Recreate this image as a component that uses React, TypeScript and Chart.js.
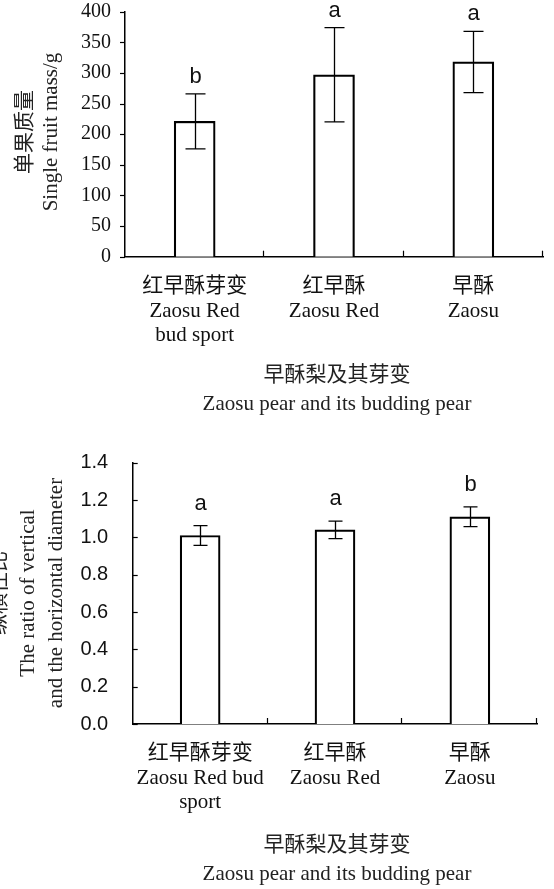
import React, { useEffect, useRef } from "react";
import { Chart, registerables } from "chart.js";

Chart.register(...registerables);

// ---------- data ----------
const labelsMass = [
  ["红早酥芽变", "Zaosu Red", "bud sport"],
  ["红早酥", "Zaosu Red"],
  ["早酥", "Zaosu"],
];
const labelsRatio = [
  ["红早酥芽变", "Zaosu Red bud", "sport"],
  ["红早酥", "Zaosu Red"],
  ["早酥", "Zaosu"],
];
const massMeans = [221, 297, 318];
const massErrors = [45, 77, 50];
const massLetters = ["b", "a", "a"];
const ratioMeans = [1.01, 1.04, 1.11];
const ratioErrors = [0.053, 0.047, 0.053];
const ratioLetters = ["a", "a", "b"];
const massAxis = { min: 0, max: 400, step: 50 };
const ratioAxis = { min: 0, max: 1.4, step: 0.2 };
const xTitleLines = ["早酥梨及其芽变", "Zaosu pear and its budding pear"];
const massYTitle = ["单果质量", "Single fruit mass/g"];
const ratioYTitle = ["纵横径比", "The ratio of vertical", "and the horizontal diameter"];

const SERIF = '"Liberation Serif", "Times New Roman", "Noto Sans CJK SC", serif';
const SANS = '"Liberation Sans", Arial, "Noto Sans CJK SC", sans-serif';
const TEXT = "#111";

type Spec = {
  labels: string[][];
  means: number[];
  errors: number[];
  letters: string[];
  axis: { min: number; max: number; step: number };
  yTitle: string[];
  yTitleX: number[];
  yTitleCY: number;
  xTitleY: number[];
  xTitleCX: number;
  width: number;
  height: number;
  padTop: number;
  padRight: number;
  yWidth: number;
  xHeight: number;
  yTickFont: any;
  yTickPad: number;
  yTickDir: number; // -1 outward, +1 inward
  capW: number;
  letterGap: number;
  barThickness: number;
  fmt: (v: number) => string;
};

function overlayPlugin(s: Spec) {
  return {
    id: "overlay",
    afterDatasetsDraw(chart: any) {
      const ctx = chart.ctx as CanvasRenderingContext2D;
      const xs = chart.scales.x;
      const ys = chart.scales.y;
      const ca = chart.chartArea;
      ctx.save();
      ctx.strokeStyle = "#000";
      ctx.lineWidth = 1.2;
      // y tick marks
      ys.ticks.forEach((_t: any, i: number) => {
        const py = Math.round(ys.getPixelForTick(i)) + 0.5;
        ctx.beginPath();
        ctx.moveTo(ca.left, py);
        ctx.lineTo(ca.left + s.yTickDir * 5, py);
        ctx.stroke();
      });
      // x tick marks at category boundaries
      const n = s.labels.length;
      const cw = (ca.right - ca.left) / n;
      for (let i = 1; i <= n; i++) {
        const px = Math.round(ca.left + i * cw) - 0.5;
        ctx.beginPath();
        ctx.moveTo(px, ca.bottom);
        ctx.lineTo(px, ca.bottom - 6);
        ctx.stroke();
      }
      // error bars + letters
      ctx.lineWidth = 1.3;
      s.means.forEach((m, i) => {
        const cx = Math.round(xs.getPixelForValue(i)) + 0.5;
        const yt = ys.getPixelForValue(m + s.errors[i]);
        const yb = ys.getPixelForValue(m - s.errors[i]);
        ctx.beginPath();
        ctx.moveTo(cx, yt);
        ctx.lineTo(cx, yb);
        ctx.moveTo(cx - s.capW / 2, yt);
        ctx.lineTo(cx + s.capW / 2, yt);
        ctx.moveTo(cx - s.capW / 2, yb);
        ctx.lineTo(cx + s.capW / 2, yb);
        ctx.stroke();
        ctx.fillStyle = TEXT;
        ctx.font = `22px ${SANS}`;
        ctx.textAlign = "center";
        ctx.textBaseline = "alphabetic";
        ctx.fillText(s.letters[i], cx, yt - s.letterGap);
      });
      // y title
      ctx.fillStyle = "#222";
      ctx.font = `21px ${SERIF}`;
      ctx.textAlign = "center";
      ctx.textBaseline = "middle";
      s.yTitle.forEach((line, i) => {
        ctx.save();
        ctx.translate(s.yTitleX[i], s.yTitleCY);
        ctx.rotate(-Math.PI / 2);
        ctx.fillText(line, 0, 0);
        ctx.restore();
      });
      // x title
      xTitleLines.forEach((line, i) => {
        ctx.fillText(line, s.xTitleCX, s.xTitleY[i]);
      });
      ctx.restore();
    },
  };
}

function BarChart({ s, top }: { s: Spec; top: number }) {
  const ref = useRef<HTMLCanvasElement | null>(null);
  useEffect(() => {
    if (!ref.current) return;
    const chart = new Chart(ref.current, {
      type: "bar",
      data: {
        labels: s.labels as any,
        datasets: [
          {
            data: s.means,
            backgroundColor: "#fff",
            borderColor: "#000",
            borderWidth: 2.2,
            barThickness: s.barThickness,
          },
        ],
      },
      options: {
        responsive: false,
        animation: false,
        devicePixelRatio: 1,
        layout: { padding: { left: 0, top: s.padTop, right: s.padRight, bottom: 0 } },
        plugins: { legend: { display: false }, tooltip: { enabled: false }, title: { display: false } },
        scales: {
          x: {
            offset: true,
            grid: { display: false, drawTicks: false },
            border: { display: true, color: "#000", width: 1.5 },
            ticks: {
              color: TEXT,
              font: { family: SERIF, size: 21, lineHeight: 1.17 },
              padding: 17.5,
              maxRotation: 0,
              minRotation: 0,
              autoSkip: false,
            },
            afterFit: (sc: any) => {
              sc.height = s.xHeight;
              sc.paddingLeft = 0;
              sc.paddingRight = 0;
            },
          },
          y: {
            min: s.axis.min,
            max: s.axis.max,
            grid: { display: false, drawTicks: false },
            border: { display: true, color: "#000", width: 1.5 },
            ticks: {
              stepSize: s.axis.step,
              color: TEXT,
              font: s.yTickFont,
              padding: s.yTickPad,
              callback: (v: any) => s.fmt(Number(v)),
            },
            afterFit: (sc: any) => {
              sc.width = s.yWidth;
              sc.paddingTop = 0;
              sc.paddingBottom = 0;
            },
          },
        },
      },
      plugins: [overlayPlugin(s)],
    });
    return () => chart.destroy();
  }, []);
  return (
    <canvas
      ref={ref}
      width={s.width}
      height={s.height}
      style={{ position: "absolute", left: 0, top, width: s.width, height: s.height, display: "block" }}
    />
  );
}

const massSpec: Spec = {
  labels: labelsMass,
  means: massMeans,
  errors: massErrors,
  letters: massLetters,
  axis: massAxis,
  yTitle: massYTitle,
  yTitleX: [25, 51.7],
  yTitleCY: 132,
  xTitleY: [375, 404],
  xTitleCX: 337,
  width: 554,
  height: 445,
  padTop: 11.7,
  padRight: 11,
  yWidth: 125,
  xHeight: 188.3,
  yTickFont: { family: SERIF, size: 20 },
  yTickPad: 14,
  yTickDir: -1,
  capW: 20,
  letterGap: 11,
  barThickness: 41,
  fmt: (v) => String(Math.round(v)),
};

const ratioSpec: Spec = {
  labels: labelsRatio,
  means: ratioMeans,
  errors: ratioErrors,
  letters: ratioLetters,
  axis: ratioAxis,
  yTitle: ratioYTitle,
  yTitleX: [-1, 28.3, 56.7],
  yTitleCY: 148,
  xTitleY: [400, 429],
  xTitleCX: 337,
  width: 554,
  height: 444,
  padTop: 17.7,
  padRight: 16.7,
  yWidth: 132.7,
  xHeight: 165,
  yTickFont: { family: SANS, size: 20 },
  yTickPad: 24.5,
  yTickDir: 1,
  capW: 14,
  letterGap: 16,
  barThickness: 40,
  fmt: (v) => v.toFixed(1),
};

export default function App() {
  return (
    <div style={{ position: "absolute", left: 0, top: 0, width: 554, height: 889, background: "#fff", overflow: "hidden" }}>
      <BarChart s={massSpec} top={0} />
      <BarChart s={ratioSpec} top={445} />
    </div>
  );
}
